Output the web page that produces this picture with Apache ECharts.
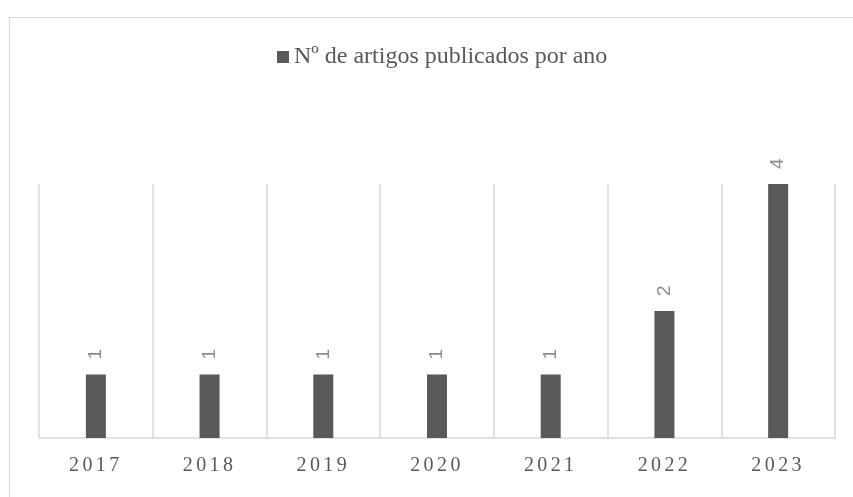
<!DOCTYPE html>
<html lang="pt">
<head>
    <meta charset="UTF-8">
    <title>Nº de artigos publicados por ano</title>
    <style>
        html, body { margin: 0; padding: 0; background: #fff; }
        #main { width: 853px; height: 497px; }
    </style>
</head>
<body>
<div id="main"></div>
<script src="https://cdn.jsdelivr.net/npm/echarts@6/dist/echarts.min.js"></script>
<script>
    // dados
    const anos = ['2017', '2018', '2019', '2020', '2021', '2022', '2023'];
    const artigos = [1, 1, 1, 1, 1, 2, 4];
    const nomeSerie = 'Nº de artigos publicados por ano';

    const myChart = echarts.init(document.getElementById('main'));

    // espaçamento entre letras nos rótulos do eixo x
    function espacar(v) {
        return v.split('').map(c => '{c|' + c + '}').join('');
    }

    const option = {
        animation: false,
        textStyle: { fontFamily: '"Liberation Serif", "DejaVu Serif", serif' },
        graphic: [{
            type: 'rect',
            left: 7,
            top: 15,
            shape: { width: 900, height: 600 },
            style: { fill: 'none', stroke: '#d9d9d9', lineWidth: 1.2 },
            silent: true
        }],
        legend: {
            data: [nomeSerie],
            left: 277,
            top: 45,
            padding: 0,
            icon: 'rect',
            itemWidth: 12,
            itemHeight: 12,
            textStyle: {
                color: '#595959',
                fontSize: 24,
                fontFamily: '"Liberation Serif", serif'
            }
        },
        grid: { left: 39, right: 18, top: 184, bottom: 59, containLabel: false },
        xAxis: {
            type: 'category',
            data: anos,
            axisLine: { lineStyle: { color: '#d9d9d9', width: 1.5 } },
            axisTick: { show: false },
            splitLine: { show: true, interval: 0, lineStyle: { color: '#d9d9d9', width: 1.5 } },
            axisLabel: {
                interval: 0,
                margin: 18,
                formatter: espacar,
                rich: {
                    c: {
                        color: '#595959',
                        fontSize: 20,
                        fontFamily: '"Liberation Serif", serif',
                        padding: [0, 3.4, 0, 0]
                    }
                }
            }
        },
        yAxis: {
            type: 'value',
            min: 0,
            max: 4,
            show: false,
            splitLine: { show: false }
        },
        series: [{
            name: nomeSerie,
            type: 'bar',
            data: artigos,
            barWidth: 20,
            itemStyle: { color: '#595959' },
            label: {
                show: true,
                position: 'top',
                rotate: 90,
                align: 'left',
                verticalAlign: 'middle',
                distance: 15,
                color: '#8c8c8c',
                fontSize: 19,
                fontFamily: '"Liberation Sans", sans-serif'
            }
        }]
    };

    myChart.setOption(option);
</script>
</body>
</html>
